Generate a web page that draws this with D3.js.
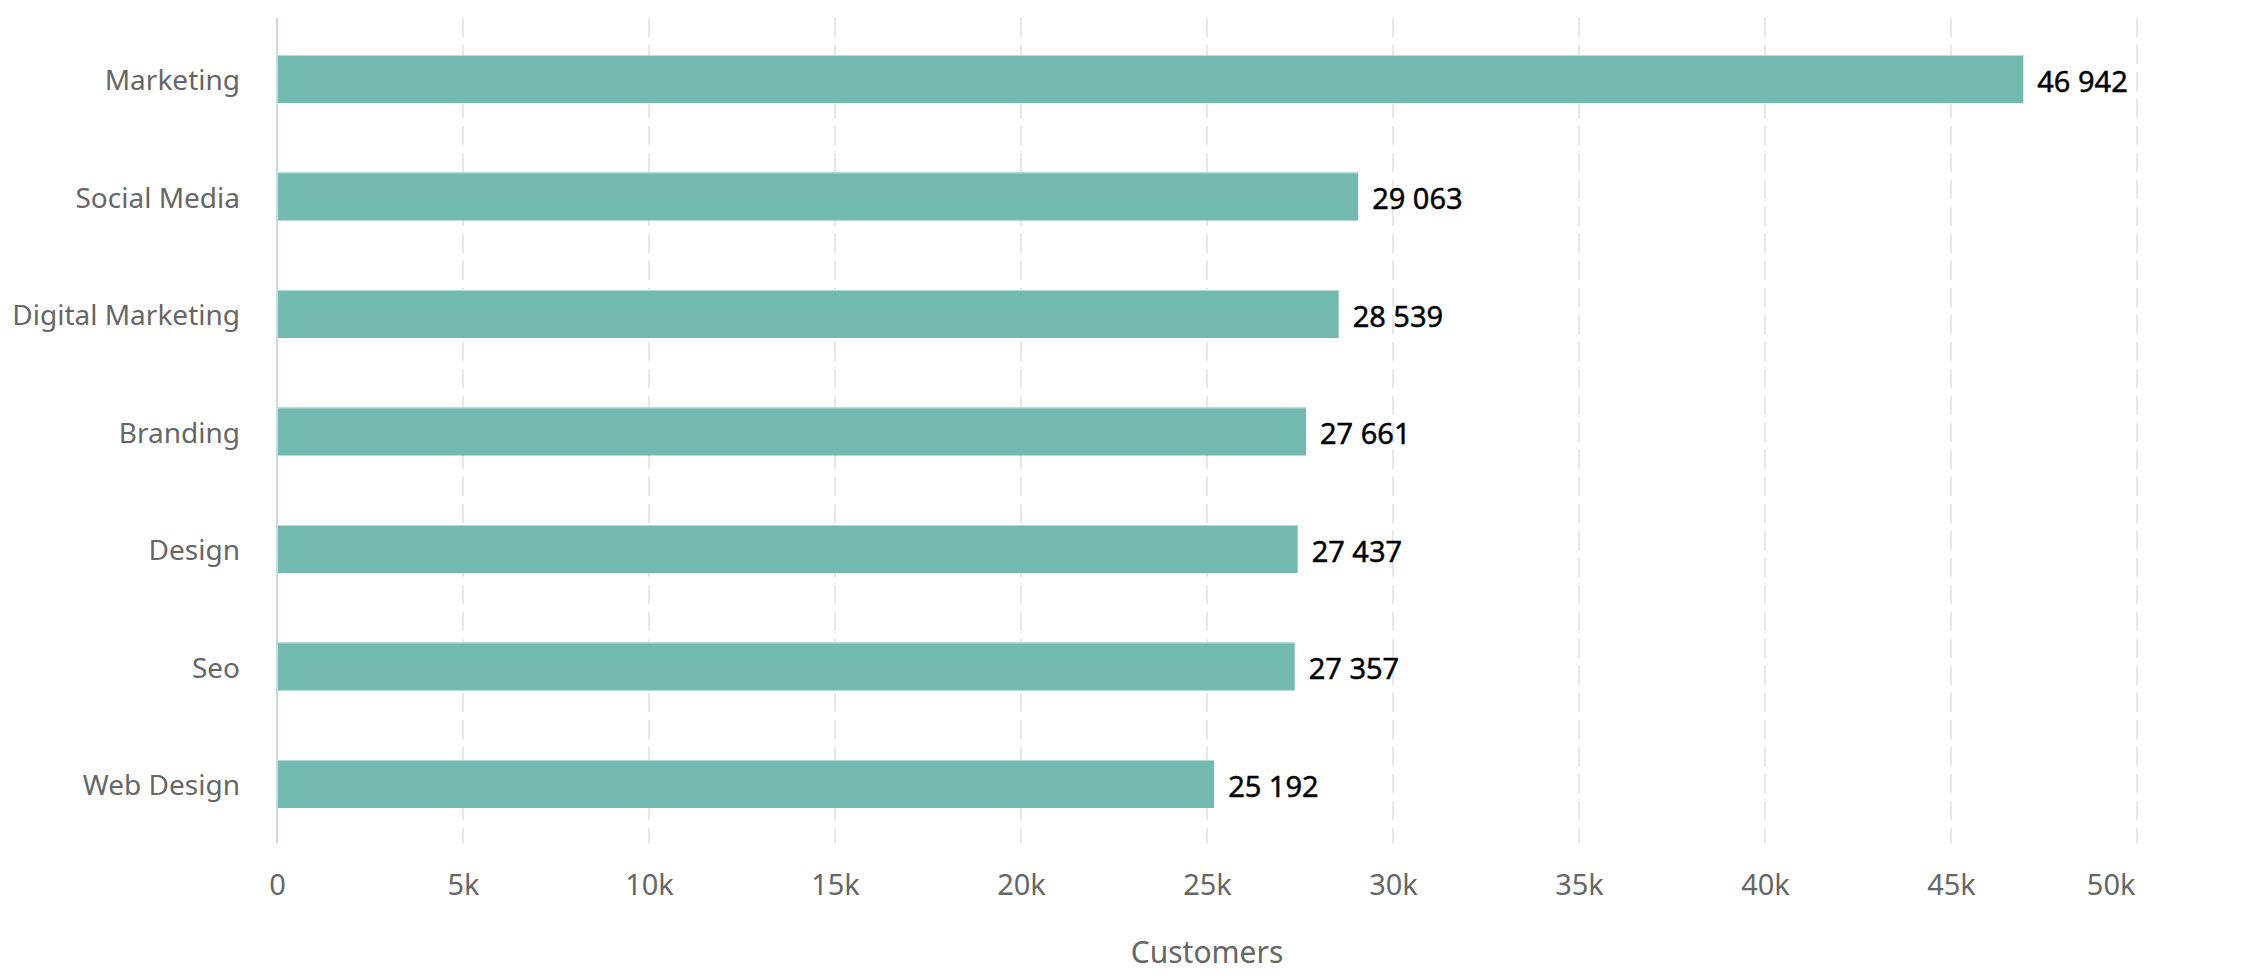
<!DOCTYPE html>
<html>
<head>
<meta charset="utf-8">
<script src="https://cdn.jsdelivr.net/npm/d3@7"></script>
<style>
  html, body { margin: 0; padding: 0; background: #fff; }
  svg { display: block; }
  text { font-family: "Noto Sans", "Open Sans", sans-serif; }
</style>
</head>
<body>
<svg id="chart" width="2264" height="977"></svg>
<script>
const categories = ["Marketing", "Social Media", "Digital Marketing", "Branding", "Design", "Seo", "Web Design"];
const values = [46942, 29063, 28539, 27661, 27437, 27357, 25192];
const xTicks = [0, 5000, 10000, 15000, 20000, 25000, 30000, 35000, 40000, 45000, 50000];
const xTickLabels = ["0", "5k", "10k", "15k", "20k", "25k", "30k", "35k", "40k", "45k", "50k"];
const axisTitle = "Customers";

const W = 2264, H = 977;
const plot = { left: 277, right: 2137, top: 18, bottom: 843 };
const svg = d3.select("#chart");

const x = d3.scaleLinear().domain([0, 50000]).range([plot.left, plot.right]);
const y = d3.scaleBand().domain(categories).range([plot.top + 1, plot.bottom + 1])
  .paddingInner(0.5915).paddingOuter(0.3064);

// grid lines
svg.append("g").selectAll("line").data(xTicks.slice(1)).join("line")
  .attr("x1", d => x(d)).attr("x2", d => x(d))
  .attr("y1", plot.top).attr("y2", plot.bottom)
  .attr("stroke", "#e6e6e6").attr("stroke-width", 2)
  .attr("stroke-dasharray", "19 8");

// bars
svg.append("g").selectAll("rect").data(categories).join("rect")
  .attr("x", x(0) + 1)
  .attr("y", d => y(d))
  .attr("width", (d, i) => x(values[i]) - x(0) - 1)
  .attr("height", y.bandwidth())
  .attr("fill", "#72b9b0");

// bar top highlight
svg.append("g").selectAll("line").data(categories).join("line")
  .attr("x1", x(0) + 1).attr("x2", (d, i) => x(values[i]))
  .attr("y1", d => y(d) + 0.5).attr("y2", d => y(d) + 0.5)
  .attr("stroke", "#b5dbd6").attr("stroke-width", 1);

// value labels
const fmt = v => d3.format(",")(v).replace(/,/g, " ");
svg.append("g").selectAll("text").data(categories).join("text")
  .attr("x", (d, i) => x(values[i]) + 14)
  .attr("y", d => y(d) + y.bandwidth() / 2 + 5)
  .attr("dominant-baseline", "middle")
  .attr("font-size", 29)
  .attr("fill", "#000")
  .attr("stroke", "#000")
  .attr("stroke-width", 0.45)
  .text((d, i) => fmt(values[i]));

// y axis
const yAxis = d3.axisLeft(y).tickSize(0).tickPadding(37);
const gy = svg.append("g").attr("transform", `translate(${plot.left},0)`).call(yAxis);
gy.select(".domain").remove();
gy.selectAll("text").attr("font-size", 28).attr("fill", "#666666")
  .attr("font-family", "'Noto Sans', sans-serif")
  .attr("dy", "0.4em");
svg.append("line")
  .attr("x1", plot.left).attr("x2", plot.left)
  .attr("y1", plot.top).attr("y2", plot.bottom)
  .attr("stroke", "#ccd6eb").attr("stroke-width", 2);

// x axis
const xAxis = d3.axisBottom(x).tickValues(xTicks).tickSize(0).tickPadding(0)
  .tickFormat((d, i) => xTickLabels[i]);
const gx = svg.append("g").attr("transform", `translate(0,${plot.bottom})`).call(xAxis);
gx.select(".domain").remove();
gx.selectAll("text").attr("font-size", 29).attr("fill", "#666666")
  .attr("font-family", "'Noto Sans', sans-serif")
  .attr("dy", null).attr("y", 44).attr("dominant-baseline", "middle");
// last label kept inside the chart, as in the reference
gx.selectAll("text").filter((d, i) => i === xTicks.length - 1)
  .attr("text-anchor", "end").attr("dx", -2);

// axis title
svg.append("text")
  .attr("x", (plot.left + plot.right) / 2)
  .attr("y", 955)
  .attr("text-anchor", "middle")
  .attr("dominant-baseline", "middle")
  .attr("font-size", 30)
  .attr("fill", "#666666")
  .text(axisTitle);
</script>
</body>
</html>
